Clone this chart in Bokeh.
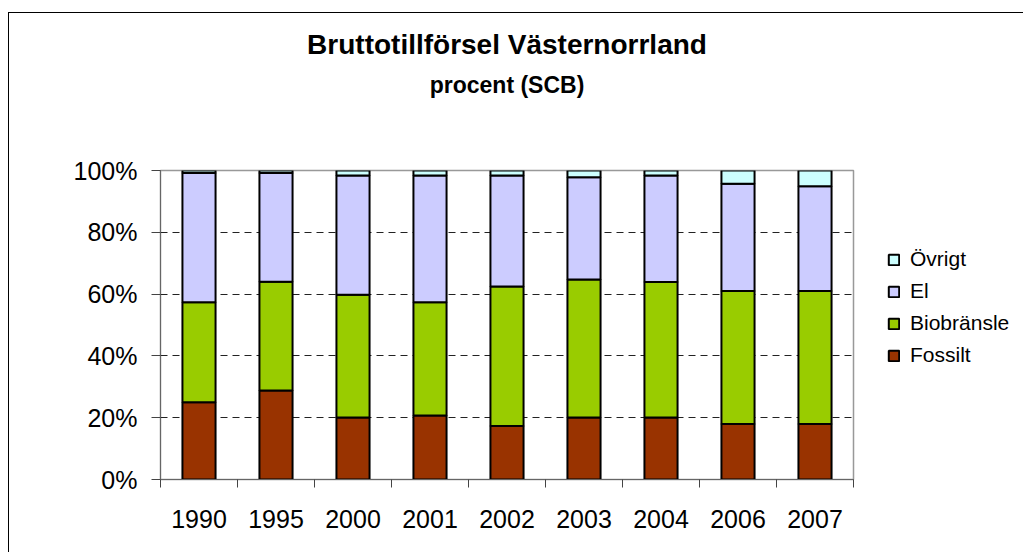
import numpy as np
from bokeh.plotting import figure
from bokeh.models import (Range1d, FixedTicker, PrintfTickFormatter, Legend, LegendItem,
                          Title, ColumnDataSource)
from bokeh.embed import file_html
from bokeh.resources import INLINE

years = ["1990", "1995", "2000", "2001", "2002", "2003", "2004", "2006", "2007"]
fossilt = [25.0, 28.8, 20.1, 20.7, 17.3, 20.1, 20.1, 18.0, 18.0]
biobransle = [32.4, 35.2, 39.7, 36.7, 45.2, 44.6, 43.8, 43.0, 43.0]
el = [41.8, 35.2, 38.6, 41.0, 35.9, 33.1, 34.5, 34.7, 33.9]
ovrigt = [0.8, 0.8, 1.6, 1.6, 1.6, 2.2, 1.6, 4.3, 5.1]
series = ["Fossilt", "Biobränsle", "El", "Övrigt"]
colors = ["#993300", "#99CC00", "#CCCCFF", "#CCFFFF"]
y_ticks = [0, 20, 40, 60, 80, 100]

FONT = "Liberation Sans"
n = len(years)
centers = [i + 0.5 for i in range(n)]
src = ColumnDataSource(dict(x=centers, Fossilt=fossilt, Biobränsle=biobransle, El=el, Övrigt=ovrigt))

p = figure(frame_width=693, frame_height=309, output_backend="svg", toolbar_location=None,
           x_range=Range1d(0, n), y_range=Range1d(0, 100), title_location=None,
           min_border_left=151, min_border_right=170, min_border_top=157, min_border_bottom=73)
p.styles = {"border-left": "1px solid #000", "border-top": "1px solid #000",
            "margin-top": "12px", "margin-left": "8px"}
p.background_fill_color = "white"
p.border_fill_color = "white"
p.outline_line_color = "#999999"
p.outline_line_width = 1.5

rs = p.vbar_stack(series, x="x", width=0.43, source=src, color=colors,
                  line_color="black", line_width=2)

# Y axis
p.yaxis.ticker = FixedTicker(ticks=y_ticks)
p.yaxis.formatter = PrintfTickFormatter(format="%d%%")
p.yaxis.major_label_text_font = FONT
p.yaxis.major_label_text_font_size = "25px"
p.yaxis.major_label_text_color = "black"
p.yaxis.major_tick_out = 9
p.yaxis.major_tick_in = 0
p.yaxis.minor_tick_line_color = None
p.yaxis.major_label_standoff = 14
p.yaxis.axis_line_color = "#666666"
p.yaxis.major_tick_line_color = "#444444"

# X axis: labels at centers, ticks at boundaries
p.xaxis.ticker = FixedTicker(ticks=centers, minor_ticks=list(range(n + 1)))
p.xaxis.major_label_overrides = {c: y for c, y in zip(centers, years)}
p.xaxis.major_tick_line_color = None
p.xaxis.major_tick_out = 8
p.xaxis.minor_tick_out = 8
p.xaxis.minor_tick_in = 0
p.xaxis.minor_tick_line_color = "#444444"
p.xaxis.axis_line_color = "#666666"
p.xaxis.major_label_standoff = 22
p.xaxis.major_label_text_font = FONT
p.xaxis.major_label_text_font_size = "25px"
p.xaxis.major_label_text_color = "black"

p.xgrid.grid_line_color = None
p.ygrid.ticker = FixedTicker(ticks=y_ticks[1:-1])
p.ygrid.grid_line_color = "#222222"
p.ygrid.grid_line_dash = "7 5"
p.ygrid.grid_line_width = 1

# Titles (stacked outward from the frame: spacer, subtitle, title)
p.add_layout(Title(text=" ", text_font=FONT, text_font_size="50px"), "above")
p.add_layout(Title(text="procent (SCB)", align="center", offset=14, text_font=FONT,
                   text_font_size="23px", text_font_style="bold", text_color="black"), "above")
p.add_layout(Title(text="Bruttotillförsel Västernorrland", align="center", offset=5,
                   text_font=FONT, text_font_size="28px", text_font_style="bold",
                   text_color="black"), "above")

items = [LegendItem(label=s, renderers=[r]) for s, r in zip(series, rs)][::-1]
legend = Legend(items=items, location=(34, 112), orientation="vertical",
                glyph_width=13, glyph_height=13, label_standoff=10, spacing=8,
                label_height=23, padding=0, margin=0, border_line_color=None,
                background_fill_alpha=0, label_text_font=FONT, label_text_font_size="21px",
                label_text_color="black")
p.add_layout(legend, "right")

open("out.html", "w").write(file_html(p, INLINE))
